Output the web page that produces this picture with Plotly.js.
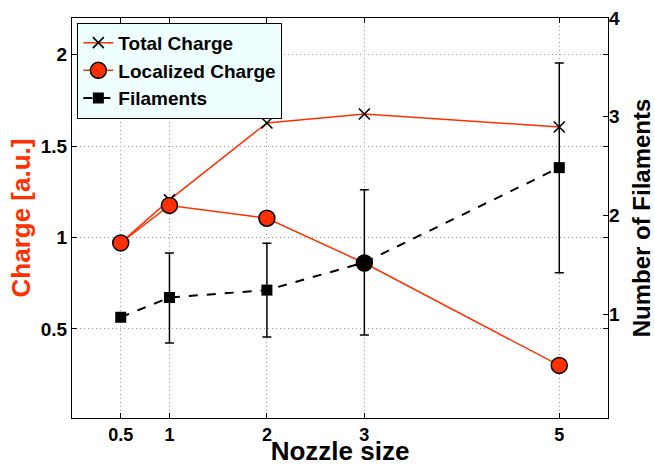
<!DOCTYPE html>
<html>
<head>
<meta charset="utf-8">
<script src="https://cdn.plot.ly/plotly-3.0.1.min.js"></script>
<style>html,body{margin:0;padding:0;background:#fff;}#chart{width:655px;height:466px;}</style>
</head>
<body>
<div id="chart"></div>
<script>
// Data
const nozzle = [0.5, 1, 2, 3, 5];
const nozzleTickLabels = ['0.5', '1', '2', '3', '5'];
const totalCharge = [0.97, 1.205, 1.626, 1.675, 1.604];
const localizedCharge = [0.97, 1.175, 1.105, 0.86, 0.30];
const filaments = [0.97, 1.17, 1.245, 1.525, 2.485];
const filamentErrPlus = [0, 0.45, 0.475, 0.735, 1.06];
const filamentErrMinus = [0, 0.46, 0.475, 0.735, 1.065];
const chargeTicks = [0.5, 1, 1.5, 2];
const filamentTicks = [1, 2, 3, 4];

const RED = '#ff3000';
const FONT = 'Liberation Sans, Arial, sans-serif';
const GRIDDASH = '1px,3px';

const traces = [
  {
    x: nozzle, y: totalCharge, name: 'Total Charge', type: 'scatter', mode: 'lines+markers',
    line: {color: RED, width: 1.5},
    marker: {symbol: 'x-thin', size: 11, color: '#000', line: {color: '#000', width: 1.6}}
  },
  {
    x: nozzle, y: localizedCharge, name: 'Localized Charge', type: 'scatter', mode: 'lines+markers',
    line: {color: RED, width: 1.5},
    marker: {symbol: 'circle', size: 16, color: [RED, RED, RED, '#1a0000', RED], line: {color: '#000', width: 1.5}}
  },
  {
    x: nozzle, y: filaments, name: 'Filaments', type: 'scatter', mode: 'lines+markers', yaxis: 'y2',
    line: {color: '#000', width: 2, dash: 'dash'},
    marker: {symbol: 'square', size: 11, color: '#000'},
    error_y: {type: 'data', symmetric: false, array: filamentErrPlus, arrayminus: filamentErrMinus,
              color: '#000', thickness: 1.5, width: 4.5}
  }
];

const layout = {
  width: 655, height: 466,
  margin: {l: 71.5, r: 46.5, t: 17.7, b: 48.3},
  paper_bgcolor: '#fff', plot_bgcolor: '#fff',
  font: {family: FONT, color: '#000'},
  showlegend: true,
  legend: {
    x: 0.01, y: 0.988, xanchor: 'left', yanchor: 'top',
    bgcolor: '#eefefe', bordercolor: '#000', borderwidth: 1,
    font: {family: FONT, size: 19, color: '#000', weight: 'bold'},
    tracegroupgap: 0, itemwidth: 30
  },
  xaxis: {
    range: [0, 5.5], tickvals: nozzle, ticktext: nozzleTickLabels,
    ticks: 'inside', ticklen: 5, tickcolor: '#000', tickwidth: 1,
    showline: true, linecolor: '#000', linewidth: 1, mirror: 'ticks',
    showgrid: true, gridcolor: '#999999', gridwidth: 1, griddash: GRIDDASH,
    zeroline: false, automargin: false,
    tickfont: {family: FONT, size: 18, color: '#000', weight: 'bold'},
    title: {text: 'Nozzle size', font: {family: FONT, size: 26, color: '#000', weight: 'bold'}, standoff: 5}
  },
  yaxis: {
    range: [0.0125, 2.2], tickvals: chargeTicks,
    ticks: 'inside', ticklen: 5, tickcolor: '#000', tickwidth: 1,
    showline: true, linecolor: '#000', linewidth: 1, mirror: 'ticks',
    showgrid: true, gridcolor: '#999999', gridwidth: 1, griddash: GRIDDASH,
    zeroline: false, automargin: false,
    tickfont: {family: FONT, size: 19, color: '#000', weight: 'bold'},
    title: {text: 'Charge [a.u.]', font: {family: FONT, size: 26, color: RED, weight: 'bold'}, standoff: 2}
  },
  yaxis2: {
    overlaying: 'y', side: 'right', range: [-0.05, 4.0], tickvals: filamentTicks,
    ticks: 'inside', ticklen: 5, tickcolor: '#000', tickwidth: 1,
    showline: false, showgrid: false, zeroline: false, automargin: false,
    tickfont: {family: FONT, size: 19, color: '#000', weight: 'bold'},
    title: {text: 'Number of Filaments', font: {family: FONT, size: 24, color: '#000', weight: 'bold'}, standoff: 17}
  }
};

Plotly.newPlot('chart', traces, layout, {displayModeBar: false, staticPlot: true});
</script>
</body>
</html>
